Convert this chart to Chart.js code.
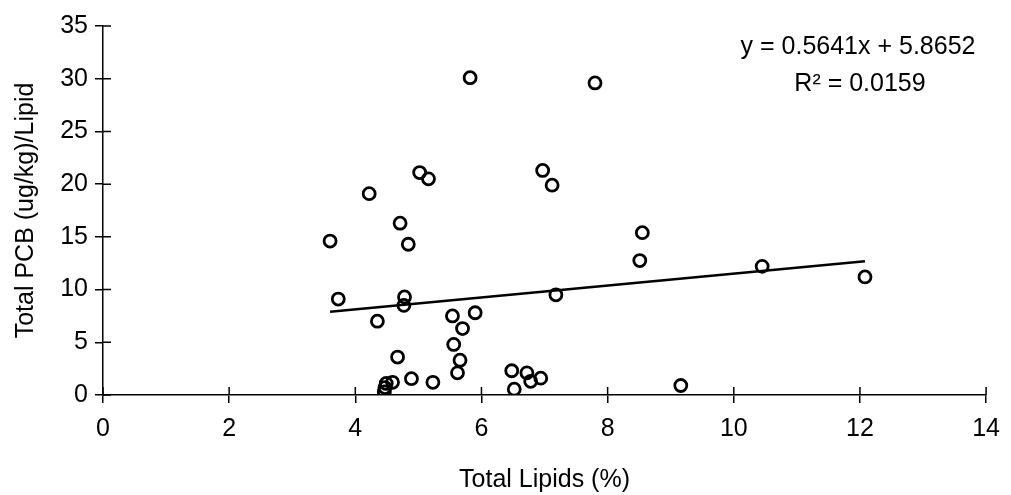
<!DOCTYPE html>
<html>
<head>
<meta charset="utf-8">
<script src="https://cdn.jsdelivr.net/npm/chart.js@4.4.0/dist/chart.umd.min.js"></script>
<style>
  html, body { margin: 0; padding: 0; background: #fff; }
  #wrap { width: 1011px; height: 495px; }
</style>
</head>
<body>
<div id="wrap"><canvas id="chart" width="1011" height="495"></canvas></div>
<script>
// Total lipids (%) vs total PCB per lipid
const lipids = [3.6, 3.73, 4.22, 4.35, 4.46, 4.47, 4.49, 4.59, 4.67, 4.71, 4.77, 4.78, 4.84, 4.89,
  5.02, 5.16, 5.23, 5.54, 5.56, 5.62, 5.66, 5.70, 5.82, 5.90, 6.48, 6.52, 6.72, 6.78, 6.94,
  6.97, 7.12, 7.18, 7.80, 8.51, 8.55, 9.16, 10.45, 12.08];
const pcbPerLipid = [14.6, 9.1, 19.1, 7.0, 0.3, 0.7, 1.1, 1.2, 3.6, 16.3, 8.5, 9.3, 14.3, 1.55,
  21.1, 20.5, 1.2, 7.5, 4.8, 2.1, 3.3, 6.3, 30.1, 7.8, 2.3, 0.55, 2.1, 1.3, 1.6,
  21.3, 19.9, 9.5, 29.6, 12.75, 15.4, 0.9, 12.2, 11.2];

// linear trendline as printed on the chart
const trendSlope = 0.5641;
const trendIntercept = 5.8652;
const trendLabels = ['y = 0.5641x + 5.8652', 'R\u00b2 = 0.0159'];

const xTicks = [0, 2, 4, 6, 8, 10, 12, 14];
const yTicks = [0, 5, 10, 15, 20, 25, 30, 35];

const FONT = 'Liberation Sans, Arial, sans-serif';

const points = lipids.map((x, i) => ({ x: x, y: pcbPerLipid[i] }));
const xMin = Math.min(...lipids), xMax = Math.max(...lipids);
const trend = [xMin, xMax].map(x => ({ x: x, y: trendSlope * x + trendIntercept }));

// ticks in the scan cross the axis line, chart.js only draws the outer half
const crossTicks = {
  id: 'crossTicks',
  afterDraw(chart) {
    const ctx = chart.ctx;
    const xs = chart.scales.x, ys = chart.scales.y;
    ctx.save();
    ctx.strokeStyle = '#000';
    ctx.lineWidth = 1.5;
    ctx.beginPath();
    xs.ticks.forEach(t => {
      const px = xs.getPixelForValue(t.value);
      ctx.moveTo(px, ys.bottom);
      ctx.lineTo(px, ys.bottom - 8);
    });
    ys.ticks.forEach(t => {
      const py = ys.getPixelForValue(t.value);
      ctx.moveTo(xs.left, py);
      ctx.lineTo(xs.left + 8, py);
    });
    ctx.stroke();

    // equation box, top right
    ctx.fillStyle = '#000';
    ctx.font = '25px ' + FONT;
    ctx.textAlign = 'center';
    ctx.textBaseline = 'middle';
    ctx.fillText(trendLabels[0], 858, 47);
    ctx.fillText(trendLabels[1], 860, 84);
    ctx.restore();
  }
};

new Chart(document.getElementById('chart'), {
  type: 'scatter',
  data: {
    datasets: [
      {
        label: 'data',
        data: points,
        pointStyle: 'circle',
        pointRadius: 6,
        pointBorderWidth: 2.8,
        pointBorderColor: '#000',
        pointBackgroundColor: 'rgba(255,255,255,0)'
      },
      {
        label: 'trend',
        type: 'line',
        data: trend,
        borderColor: '#000',
        borderWidth: 2.5,
        pointRadius: 0,
        fill: false
      }
    ]
  },
  options: {
    responsive: false,
    animation: false,
    layout: { padding: { top: 26, right: 21, bottom: 0, left: 0 } },
    plugins: {
      legend: { display: false },
      tooltip: { enabled: false }
    },
    scales: {
      x: {
        type: 'linear',
        min: 0,
        max: 14,
        afterBuildTicks: s => { s.ticks = xTicks.map(v => ({ value: v })); },
        afterFit: s => { s.height = 100; },
        border: { display: true, color: '#000', width: 1.5 },
        grid: { drawOnChartArea: false, drawTicks: true, tickLength: 8, color: '#000', lineWidth: 1.5 },
        ticks: { color: '#000', font: { family: FONT, size: 25 }, padding: 11 },
        title: {
          display: true,
          text: 'Total Lipids (%)',
          color: '#000',
          font: { family: FONT, size: 25 },
          padding: { top: 6, bottom: 0 }
        }
      },
      y: {
        type: 'linear',
        min: 0,
        max: 35,
        afterBuildTicks: s => { s.ticks = yTicks.map(v => ({ value: v })); },
        afterFit: s => { s.width = 103; },
        border: { display: true, color: '#000', width: 1.5 },
        grid: { drawOnChartArea: false, drawTicks: true, tickLength: 8, color: '#000', lineWidth: 1.5 },
        ticks: { color: '#000', font: { family: FONT, size: 25 }, padding: 7 },
        title: {
          display: true,
          text: 'Total PCB (ug/kg)/Lipid',
          color: '#000',
          font: { family: FONT, size: 25 },
          padding: { top: 11, bottom: 0 }
        }
      }
    }
  },
  plugins: [crossTicks]
});
</script>
</body>
</html>
